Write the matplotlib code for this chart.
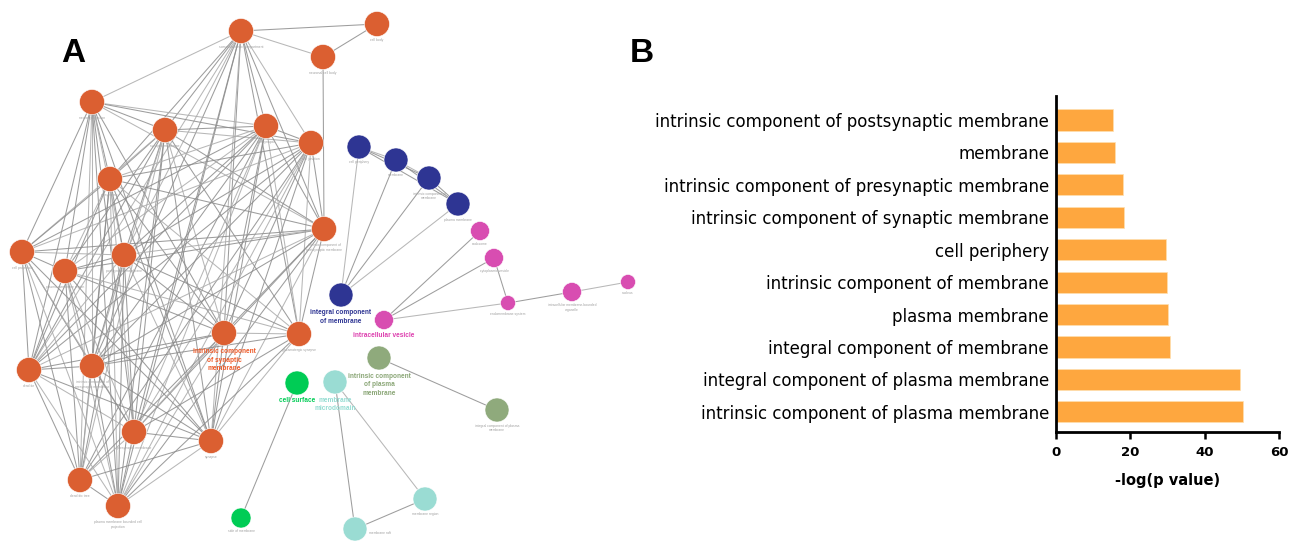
import itertools
import textwrap

import matplotlib.pyplot as plt
from matplotlib.patches import Circle

# ---- panel A: ClueGO style network (positions, in px) ----
node_names = [
    "somatodendritic compartment", "cell body", "neuronal cell body", "neuron projection",
    "synaptic membrane", "postsynapse", "cell junction", "presynapse",
    "intrinsic component of postsynaptic membrane", "cell projection",
    "plasma membrane region", "postsynaptic membrane",
    "intrinsic component of synaptic membrane", "glutamatergic synapse", "dendrite",
    "intrinsic component of presynaptic membrane", "presynaptic membrane", "synapse",
    "dendritic tree", "plasma membrane bounded cell projection",
    "cell periphery", "membrane", "intrinsic component of membrane", "plasma membrane",
    "integral component of membrane",
    "endosome", "cytoplasmic vesicle", "endomembrane system",
    "intracellular membrane-bounded organelle", "nucleus", "intracellular vesicle",
    "intrinsic component of plasma membrane", "integral component of plasma membrane",
    "cell surface", "side of membrane",
    "membrane microdomain", "membrane region", "membrane raft",
]
node_x = [241, 377, 323, 92, 165, 266, 311, 110, 324, 22, 65, 124, 224, 299, 29, 92, 134, 211, 80, 118,
          359, 396, 429, 458, 341,
          480, 494, 508, 572, 628, 384,
          379, 497,
          297, 241,
          335, 425, 355]
node_y = [31, 24, 57, 102, 130, 126, 143, 179, 229, 252, 271, 255, 333, 334, 370, 366, 432, 441, 480, 506,
          147, 160, 178, 204, 295,
          231, 258, 303, 292, 282, 320,
          358, 410,
          383, 518,
          382, 499, 529]
node_group = ["orange"] * 20 + ["blue"] * 5 + ["pink"] * 6 + ["olive"] * 2 + ["green"] * 2 + ["teal"] * 3

# leading terms of each group, with the line breaks seen in the picture
lead_labels = {
    "intrinsic component of synaptic membrane": "intrinsic component\nof synaptic\nmembrane",
    "integral component of membrane": "integral component\nof membrane",
    "intracellular vesicle": "intracellular vesicle",
    "intrinsic component of plasma membrane": "intrinsic component\nof plasma\nmembrane",
    "cell surface": "cell surface",
    "membrane microdomain": "membrane\nmicrodomain",
}

# the orange synapse cluster is almost fully connected
orange_core = [
    "somatodendritic compartment", "neuron projection", "synaptic membrane", "postsynapse",
    "cell junction", "presynapse", "intrinsic component of postsynaptic membrane",
    "cell projection", "plasma membrane region", "postsynaptic membrane",
    "intrinsic component of synaptic membrane", "glutamatergic synapse", "dendrite",
    "intrinsic component of presynaptic membrane", "presynaptic membrane", "synapse",
    "dendritic tree", "plasma membrane bounded cell projection",
]
orange_missing = [
    ("somatodendritic compartment", "cell projection"),
    ("somatodendritic compartment", "plasma membrane region"),
    ("somatodendritic compartment", "dendritic tree"),
    ("neuron projection", "glutamatergic synapse"),
    ("cell projection", "glutamatergic synapse"),
    ("cell projection", "intrinsic component of synaptic membrane"),
    ("dendrite", "glutamatergic synapse"),
    ("dendritic tree", "glutamatergic synapse"),
    ("dendritic tree", "intrinsic component of postsynaptic membrane"),
    ("plasma membrane region", "cell junction"),
]
extra_edges = [
    ("somatodendritic compartment", "cell body"),
    ("somatodendritic compartment", "neuronal cell body"),
    ("neuronal cell body", "cell body"),
    ("neuronal cell body", "intrinsic component of postsynaptic membrane"),
    ("cell periphery", "membrane"), ("cell periphery", "intrinsic component of membrane"),
    ("cell periphery", "plasma membrane"), ("membrane", "intrinsic component of membrane"),
    ("membrane", "plasma membrane"), ("intrinsic component of membrane", "plasma membrane"),
    ("integral component of membrane", "cell periphery"),
    ("integral component of membrane", "membrane"),
    ("integral component of membrane", "intrinsic component of membrane"),
    ("integral component of membrane", "plasma membrane"),
    ("intracellular vesicle", "endosome"), ("intracellular vesicle", "cytoplasmic vesicle"),
    ("intracellular vesicle", "endomembrane system"), ("cytoplasmic vesicle", "endomembrane system"),
    ("endomembrane system", "intracellular membrane-bounded organelle"),
    ("intracellular membrane-bounded organelle", "nucleus"),
    ("intrinsic component of plasma membrane", "integral component of plasma membrane"),
    ("cell surface", "side of membrane"),
    ("membrane microdomain", "membrane region"), ("membrane microdomain", "membrane raft"),
    ("membrane raft", "membrane region"),
]

# ---- panel B: bar chart ----
terms = [
    "intrinsic component of postsynaptic membrane",
    "membrane",
    "intrinsic component of presynaptic membrane",
    "intrinsic component of synaptic membrane",
    "cell periphery",
    "intrinsic component of membrane",
    "plasma membrane",
    "integral component of membrane",
    "integral component of plasma membrane",
    "intrinsic component of plasma membrane",
]
neg_log_p = [15.4, 16.0, 17.9, 18.4, 29.6, 29.9, 30.1, 30.6, 49.5, 50.4]

# ---- styles ----
fill = {"orange": "#DB5F31", "blue": "#2E3593", "pink": "#D84DB1",
        "olive": "#8FAA7C", "green": "#00CC55", "teal": "#9ADCD3"}
label_col = {"orange": "#EE5A28", "blue": "#2E3593", "pink": "#DD3FAE",
             "olive": "#8AA676", "green": "#00CC55", "teal": "#94DCD2"}
radius = {"orange": 12.5, "blue": 12, "pink": 9.5, "olive": 12, "green": 12, "teal": 12}
small_r = {"endomembrane system": 7.5, "nucleus": 7.5, "side of membrane": 10,
           "intracellular membrane-bounded organelle": 9.5}

W, H = 1289, 542
fig = plt.figure(figsize=(W / 100, H / 100), dpi=100)
fig.patch.set_facecolor("white")

net_w = 670
ax = fig.add_axes([0, 0, net_w / W, 1])
ax.set_xlim(0, net_w)
ax.set_ylim(H, 0)
ax.axis("off")

idx = {n: i for i, n in enumerate(node_names)}
edges = [e for e in itertools.combinations(orange_core, 2)
         if e not in orange_missing and e[::-1] not in orange_missing]
edges += extra_edges

for k, (a, b) in enumerate(edges):
    i, j = idx[a], idx[b]
    shade = "#8c8c8c" if k % 3 else "#ababab"
    ax.plot([node_x[i], node_x[j]], [node_y[i], node_y[j]],
            color=shade, lw=0.75, alpha=0.85, zorder=1, solid_capstyle="round")

for n, x, y, g in zip(node_names, node_x, node_y, node_group):
    r = small_r.get(n, radius[g])
    ax.add_patch(Circle((x, y), r, facecolor=fill[g], edgecolor="white", lw=0.4, zorder=3))
    if n in lead_labels:
        ax.text(x, y + r + 2.5, lead_labels[n], ha="center", va="top", fontsize=4.7,
                fontweight="bold", color=label_col[g], family="Liberation Sans",
                linespacing=1.35, zorder=4)
    elif n == "membrane raft":
        # sits on the lower edge in the picture; keep its label beside the node
        ax.text(x + r + 2, y + 4, n, ha="left", va="center", fontsize=2.4,
                color="#a0a0a0", family="Liberation Sans", zorder=2)
    else:
        txt = "\n".join(textwrap.wrap(n, 30))
        ax.text(x, y + r + 1.5, txt, ha="center", va="top", fontsize=2.4,
                color="#a0a0a0", family="Liberation Sans", linespacing=1.2, zorder=2)

fig.text(73 / W, 1 - 53 / H, "A", fontsize=24, fontweight="bold",
         family="Liberation Sans", ha="center", va="center")
fig.text(642 / W, 1 - 53 / H, "B", fontsize=24, fontweight="bold",
         family="Liberation Sans", ha="center", va="center")

# bar chart
bx0, bx1, by_top, by_bot = 1056, 1279, 96, 432
axb = fig.add_axes([bx0 / W, 1 - by_bot / H, (bx1 - bx0) / W, (by_bot - by_top) / H])
pos = list(range(len(terms)))
axb.barh(pos, neg_log_p, height=0.65, color="#FEA73F", edgecolor="#FFE0B0", lw=0.5)
axb.set_ylim(len(terms) - 1 + 0.62, -0.74)
axb.set_xlim(0, 60)
axb.set_xticks([0, 20, 40, 60])
axb.set_yticks(pos)
axb.set_yticklabels(terms, fontsize=12, family="DejaVu Sans")
axb.tick_params(axis="y", length=0, pad=5)
axb.tick_params(axis="x", length=5, width=1.8, pad=5, labelsize=9.5)
for lab in axb.get_xticklabels():
    lab.set_fontweight("bold")
axb.set_xlabel("-log(p value)", fontsize=10.5, fontweight="bold", labelpad=10)
for s in ["top", "right"]:
    axb.spines[s].set_visible(False)
for s in ["left", "bottom"]:
    axb.spines[s].set_linewidth(2.0)

fig.savefig("out.png", dpi=100, facecolor="white")
